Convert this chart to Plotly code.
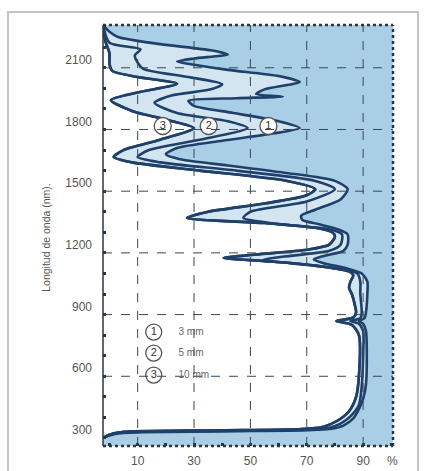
import plotly.graph_objects as go

# Transmission (%) versus wavelength (nm) for three sheet thicknesses
wl_3mm = [300, 312, 322, 328, 333, 338, 345, 360, 395, 440, 490, 560, 700, 820, 855, 869, 882, 910,
          1000, 1060, 1100, 1125, 1150, 1168, 1185, 1210, 1240, 1290, 1315, 1340, 1360, 1380, 1410,
          1460, 1510, 1550, 1590, 1625, 1655, 1680, 1710, 1745, 1780, 1807, 1840, 1880, 1915, 1940,
          1952, 1960, 1972, 1995, 2031, 2060, 2090, 2115, 2130, 2145, 2165, 2185, 2215, 2250, 2275, 2308]
t_3mm = [-2.3, 0, 3, 12, 45, 70, 79, 83, 86.5, 88.5, 90, 91, 91.3, 91, 90, 88.5, 90.5, 91,
         91.5, 91.5, 89.5, 84, 76, 72.5, 76, 83, 84.5, 84.5, 81, 74, 68.5, 68, 73,
         82, 84.5, 80, 62, 42, 25, 20, 24, 40, 58, 67.5, 60, 44, 30, 28,
         45, 61.5, 52, 55, 67.5, 60, 42, 30, 24, 30, 42, 36, 18, 3, 0, -2.3]

wl_5mm = [300, 314, 324, 330, 335, 341, 350, 370, 405, 460, 550, 700, 820, 855, 869, 882, 910,
          1000, 1060, 1100, 1125, 1150, 1166, 1182, 1210, 1240, 1290, 1315, 1340, 1370, 1400, 1450,
          1510, 1550, 1600, 1640, 1666, 1700, 1750, 1807, 1840, 1880, 1930, 1965, 1995, 2020, 2055,
          2095, 2125, 2160, 2190, 2222, 2308]
t_5mm = [-2.3, 0, 3, 10, 45, 72, 78, 82, 85.5, 88.5, 89.5, 90, 90, 88.5, 85.5, 89, 89.5,
         89, 89, 88, 80, 64, 54.5, 62, 78, 82, 82.5, 78, 60, 47.5, 50, 70,
         80, 73, 45, 18, 10, 14, 32, 49, 42, 24, 16, 22, 36, 40, 28,
         12, 10, 9, 11, 0, -2.3]

wl_10mm = [300, 316, 326, 332, 337, 343, 355, 385, 430, 500, 600, 800, 850, 869, 885, 910, 950,
           1000, 1030, 1060, 1090, 1110, 1140, 1160, 1175, 1192, 1215, 1240, 1280, 1300, 1320, 1345,
           1370, 1400, 1440, 1480, 1510, 1550, 1600, 1640, 1666, 1700, 1750, 1807, 1845, 1890, 1943,
           1980, 2022, 2055, 2085, 2120, 2170, 2230, 2308]
t_10mm = [-2.3, 0, 3, 8, 40, 68, 76, 81, 85, 87.5, 88.5, 88.5, 86, 80.5, 86.5, 87.5, 87,
          86, 85, 85.5, 86.5, 85, 72, 55, 40.5, 52, 70, 78, 80, 79, 74, 55,
          27.5, 35, 55, 70, 73, 63, 32, 8, 1.5, 5, 18, 30, 21, 8, 0.5,
          10, 24, 10, 1, 0, 0, -1.5, -2.3]

x_ticks = [10, 30, 50, 70, 90, 100.4]
x_tick_text = ["10", "30", "50", "70", "90", "%"]
y_ticks = [300, 600, 900, 1200, 1500, 1800, 2100]

legend_nums = ["1", "2", "3"]
legend_text = ["3 mm", "5 mm", "10 mm"]
legend_wl = [815, 713, 606]

curve_label_t = [56.4, 35.2, 18.9]
curve_label_num = ["1", "2", "3"]
curve_label_wl = 1817

X_MIN, X_MAX = -2.3, 100.6
Y_MIN, Y_MAX = 261, 2308

BLUE = "#a9cfe7"
PALE = "#d3e5f1"
LINE = "#1f406a"
LINE_STYLE = dict(color=LINE, width=2.6, shape="spline", smoothing=0.7)

fig = go.Figure()

# left boundary used as the base of the white fill
edge_wl = [Y_MIN, Y_MAX]
fig.add_trace(go.Scatter(x=[X_MIN, X_MIN], y=edge_wl, mode="lines",
                         line=dict(width=0), hoverinfo="skip", showlegend=False))
# white area left of the 10 mm curve
fig.add_trace(go.Scatter(x=t_10mm, y=wl_10mm, mode="lines", fill="tonextx",
                         fillcolor="white", line=LINE_STYLE, hoverinfo="skip", showlegend=False))
# pale band between the 10 mm and 3 mm curves
fig.add_trace(go.Scatter(x=t_3mm, y=wl_3mm, mode="lines", fill="tonextx",
                         fillcolor=PALE, line=LINE_STYLE, hoverinfo="skip", showlegend=False))
fig.add_trace(go.Scatter(x=t_10mm, y=wl_10mm, mode="lines", line=LINE_STYLE,
                         hoverinfo="skip", showlegend=False))
fig.add_trace(go.Scatter(x=t_5mm, y=wl_5mm, mode="lines", line=LINE_STYLE,
                         hoverinfo="skip", showlegend=False))

# dashed grid drawn over the fills
grid_style = dict(color="#3a4656", width=1, dash="dash")
shapes = []
for xv in x_ticks[:-1]:
    shapes.append(dict(type="line", xref="x", yref="paper", x0=xv, x1=xv, y0=0, y1=1,
                       line=grid_style, layer="above"))
for yv in y_ticks[1:]:
    shapes.append(dict(type="line", xref="paper", yref="y", x0=0, x1=1, y0=yv, y1=yv,
                       line=grid_style, layer="above"))
# frame of the plotting area
edge_dash = dict(color="#2b3440", width=2.5, dash="dot")
shapes.append(dict(type="line", xref="paper", yref="paper", x0=0, x1=1, y0=1, y1=1, line=edge_dash, layer="above"))
shapes.append(dict(type="line", xref="paper", yref="paper", x0=1, x1=1, y0=0, y1=1, line=edge_dash, layer="above"))
shapes.append(dict(type="line", xref="paper", yref="paper", x0=0, x1=1, y0=0, y1=0, line=edge_dash, layer="above"))
shapes.append(dict(type="line", xref="paper", yref="paper", x0=0, x1=0, y0=0, y1=1,
                   line=dict(color="#2b3440", width=1.5), layer="above"))
# light outer border around the whole figure
shapes.append(dict(type="rect", xref="paper", yref="paper", x0=-0.3276, x1=1.0862, y0=-0.08, y1=1.031,
                   line=dict(color="#c4c4c4", width=2), layer="below"))

# circled numbers in the key and on the curves
fig.add_trace(go.Scatter(x=[15.7] * 3, y=legend_wl, mode="markers+text", text=legend_nums,
                         textposition="middle center",
                         textfont=dict(family="Liberation Sans", size=11, color="#333"),
                         marker=dict(symbol="circle", size=16, color="white",
                                     line=dict(color="#555", width=1.3)),
                         hoverinfo="skip", showlegend=False))
fig.add_trace(go.Scatter(x=[24.5] * 3, y=legend_wl, mode="text", text=legend_text,
                         textposition="middle right",
                         textfont=dict(family="Liberation Sans", size=10, color="#666"),
                         hoverinfo="skip", showlegend=False))
fig.add_trace(go.Scatter(x=curve_label_t, y=[curve_label_wl] * 3, mode="markers+text", text=curve_label_num,
                         textposition="middle center",
                         textfont=dict(family="Liberation Sans", size=11, color="#333"),
                         marker=dict(symbol="circle", size=17, color="white",
                                     line=dict(color="#555", width=1.3)),
                         hoverinfo="skip", showlegend=False))

fig.add_annotation(text="Longitud de onda (nm).", xref="paper", yref="paper",
                   x=-0.222, y=0.496, textangle=-90, showarrow=False,
                   font=dict(family="Liberation Sans", size=10.5, color="#555"))

tick_font = dict(family="Liberation Sans", size=12, color="#555")
fig.update_layout(
    width=425, height=471,
    margin=dict(l=103, r=32, t=25, b=25, autoexpand=False),
    paper_bgcolor="white",
    plot_bgcolor=BLUE,
    shapes=shapes,
    xaxis=dict(range=[X_MIN, X_MAX], tickvals=x_ticks, ticktext=x_tick_text,
               showgrid=False, zeroline=False, showline=False, automargin=False,
               ticks="inside", ticklen=3, tickwidth=3, tickcolor="#2b3440",
               minor=dict(dtick=10, tick0=0, ticks="inside", ticklen=3, tickwidth=3, tickcolor="#2b3440"),
               ticklabelstandoff=6, tickfont=tick_font),
    yaxis=dict(range=[Y_MIN, Y_MAX], tickvals=y_ticks, showgrid=False, zeroline=False,
               showline=False, automargin=False, ticks="inside", ticklen=3, tickwidth=3, tickcolor="#2b3440",
               minor=dict(dtick=100, tick0=0, ticks="inside", ticklen=3, tickwidth=3, tickcolor="#2b3440"),
               ticklabelshift=-8, ticklabelstandoff=10, tickfont=tick_font),
)

fig.write_html("out.html")
